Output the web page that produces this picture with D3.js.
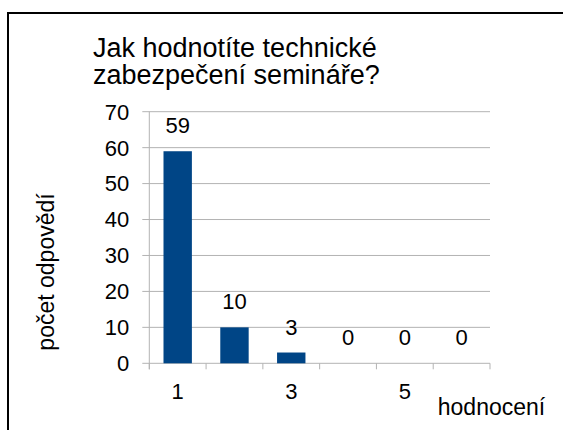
<!DOCTYPE html>
<html>
<head>
<meta charset="utf-8">
<script src="https://cdn.jsdelivr.net/npm/d3@7"></script>
<style>
  body { margin: 0; background: #fff; }
  text { font-family: "Liberation Sans", Arial, sans-serif; fill: #000; }
</style>
</head>
<body>
<div id="chart"></div>
<script>
const categories = ["1", "2", "3", "4", "5", "6"];
const values = [59, 10, 3, 0, 0, 0];
const tickLabels = ["1", "3", "5"];
const yTicks = [0, 10, 20, 30, 40, 50, 60, 70];
const titleLines = ["Jak hodnotíte technické", "zabezpečení semináře?"];

const W = 563, H = 430;
const margin = {top: 111.7, right: 73, bottom: 66.7, left: 149.3},
      width = W - margin.left - margin.right,
      height = H - margin.top - margin.bottom;

const root = d3.select("#chart")
  .append("svg")
    .attr("width", W)
    .attr("height", H);

// frame
root.append("rect")
  .attr("x", 8).attr("y", 13)
  .attr("width", W).attr("height", H)
  .attr("fill", "none")
  .attr("stroke", "#000")
  .attr("stroke-width", 2);

// title
root.append("text")
  .attr("font-size", 27)
  .selectAll("tspan")
  .data(titleLines)
  .join("tspan")
    .attr("x", 93)
    .attr("y", (d, i) => 56.5 + i * 27.5)
    .text(d => d);

const svg = root.append("g")
  .attr("transform", `translate(${margin.left},${margin.top})`);

const x = d3.scaleBand()
  .domain(categories)
  .range([0, width])
  .paddingInner(0.5)
  .paddingOuter(0.25);

const y = d3.scaleLinear()
  .domain([0, 70])
  .range([height, 0]);

// gridlines
svg.selectAll(".grid")
  .data(yTicks)
  .join("line")
    .attr("x1", -7).attr("x2", width)
    .attr("y1", d => y(d)).attr("y2", d => y(d))
    .attr("stroke", "#b3b3b3")
    .attr("stroke-width", 1);

// y axis line
svg.append("line")
  .attr("x1", 0).attr("x2", 0)
  .attr("y1", 0).attr("y2", height + 6)
  .attr("stroke", "#b3b3b3");

// y tick labels
svg.selectAll(".ylab")
  .data(yTicks)
  .join("text")
    .attr("x", -20)
    .attr("y", d => y(d))
    .attr("dy", "0.36em")
    .attr("text-anchor", "end")
    .attr("font-size", 22)
    .text(d => d);

// x ticks at band boundaries
const bounds = d3.range(categories.length + 1).map(i => i * (width / categories.length));
svg.selectAll(".xtick")
  .data(bounds)
  .join("line")
    .attr("x1", d => d).attr("x2", d => d)
    .attr("y1", height).attr("y2", height + 6)
    .attr("stroke", "#b3b3b3");

// bars
svg.selectAll(".bar")
  .data(values)
  .join("rect")
    .attr("x", (d, i) => x(categories[i]))
    .attr("y", d => y(d))
    .attr("width", x.bandwidth())
    .attr("height", d => height - y(d))
    .attr("fill", "#004586");

// value labels
svg.selectAll(".vlab")
  .data(values)
  .join("text")
    .attr("x", (d, i) => x(categories[i]) + x.bandwidth() / 2)
    .attr("y", d => y(d) - 18)
    .attr("text-anchor", "middle")
    .attr("font-size", 22)
    .text(d => d);

// x tick labels
svg.selectAll(".xlab")
  .data(tickLabels)
  .join("text")
    .attr("x", d => x(d) + x.bandwidth() / 2)
    .attr("y", height + 36)
    .attr("text-anchor", "middle")
    .attr("font-size", 22)
    .text(d => d);

// axis titles
root.append("text")
  .attr("x", 491.5)
  .attr("y", 415)
  .attr("text-anchor", "middle")
  .attr("font-size", 23)
  .text("hodnocení");

root.append("text")
  .attr("transform", "translate(54,272) rotate(-90)")
  .attr("text-anchor", "middle")
  .attr("font-size", 23)
  .text("počet odpovědí");
</script>
</body>
</html>
